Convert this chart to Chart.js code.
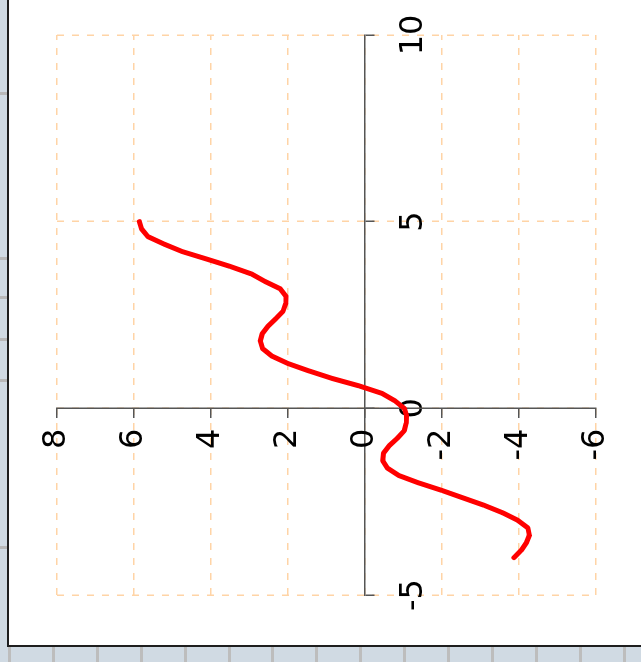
<!DOCTYPE html>
<html>
<head>
<meta charset="utf-8">
<script src="https://cdn.jsdelivr.net/npm/chart.js@4"></script>
<style>
  html, body { margin: 0; padding: 0; }
  body {
    width: 641px; height: 662px; position: relative; overflow: hidden;
    background: #d0dae3;
  }
  /* window frame around the plot */
  #panel {
    position: absolute; left: 7px; top: 0; width: 632px; height: 645px;
    background: #fff;
    border-left: 2px solid #1e1e1e; border-bottom: 2px solid #1e1e1e;
  }
  #ruler-bottom {
    position: absolute; left: 0; top: 647px; width: 641px; height: 15px;
    background: repeating-linear-gradient(to right,
      transparent 0, transparent 8px, #bdbdbd 8px, #bdbdbd 11px, transparent 11px, transparent 43.9px);
  }
  .mark { position: absolute; left: 0; width: 7px; height: 3px; background: #b8b8b8; }
  /* the chart is drawn landscape and turned a quarter turn */
  #wrap {
    position: absolute; left: 0; top: 0; width: 662px; height: 641px;
    transform-origin: 0 0;
    transform: translateY(662px) rotate(-90deg);
  }
</style>
</head>
<body>
<div id="panel"></div>
<div id="ruler-bottom"></div>
<div class="mark" style="top:92px"></div>
<div class="mark" style="top:257px"></div>
<div class="mark" style="top:296px"></div>
<div class="mark" style="top:338px"></div>
<div class="mark" style="top:379px"></div>
<div class="mark" style="top:546px"></div>
<div id="wrap"><canvas id="grafico" width="662" height="641"></canvas></div>

<script>
// curve samples
var xValores = [-4.0, -3.8, -3.6, -3.4, -3.2, -3.0, -2.8, -2.6, -2.4, -2.2,
                -2.0, -1.8, -1.6, -1.4, -1.2, -1.0, -0.8, -0.6, -0.4, -0.2,
                 0.0,  0.2,  0.4,  0.6,  0.8,  1.0,  1.2,  1.4,  1.6,  1.8,
                 2.0,  2.2,  2.4,  2.6,  2.8,  3.0,  3.2,  3.4,  3.6,  3.8,
                 4.0,  4.2,  4.4,  4.6,  4.8,  5.0];
var yValores = [-3.87, -4.06, -4.19, -4.27, -4.23, -3.97, -3.58, -3.10, -2.55, -2.00,
                -1.40, -0.88, -0.58, -0.46, -0.48, -0.63, -0.84, -1.02, -1.07, -1.08,
                -1.02, -0.78, -0.44,  0.15,  0.85,  1.45,  2.00,  2.42,  2.66,  2.72,
                 2.67,  2.52,  2.32,  2.13,  2.06,  2.05,  2.20,  2.60,  2.95,  3.50,
                 4.12,  4.75,  5.22,  5.64,  5.80,  5.86];

// axis ranges and ticks
var xTicks = [-5, 0, 5, 10];
var yTicks = [-6, -4, -2, 0, 2, 4, 6, 8];

var puntos = [];
for (var i in xValores) {
  puntos.push({ x: xValores[i], y: yValores[i] });
}

var fuente = { family: "DejaVu Sans", size: 32 };

function ejeLineal(ticks, posicion, padding, sufijo) {
  return {
    type: "linear",
    min: ticks[0],
    max: ticks[ticks.length - 1],
    position: posicion,
    afterBuildTicks: function(scale) {
      scale.ticks = ticks.map(function(v) { return { value: v }; });
    },
    // labels may hang past the ends, the layout padding already leaves room
    afterFit: function(scale) {
      scale.paddingLeft = 0;
      scale.paddingRight = 0;
      scale.paddingTop = 0;
      scale.paddingBottom = 0;
    },
    ticks: {
      color: "#000", font: fuente, padding: padding, maxRotation: 0, minRotation: 0,
      // a centred y axis puts its labels flush on the line, so push them off with spaces
      callback: function(v) { return v + sufijo; }
    },
    grid: { color: "#ffd4a6", lineWidth: 1.5, tickColor: "#555", tickLength: 9, tickWidth: 1.5 },
    border: { color: "#555", width: 1.5, dash: [7, 8] }
  };
}

var grafico = new Chart(document.getElementById("grafico"), {
  type: "scatter",
  data: {
    datasets: [{
      data: puntos,
      showLine: true,
      borderColor: "#ff0000",
      borderWidth: 5,
      borderJoinStyle: "round",
      borderCapStyle: "round",
      pointRadius: 0,
      fill: false,
      tension: 0
    }]
  },
  options: {
    responsive: false,
    animation: false,
    layout: { padding: { left: 67, right: 35, top: 57, bottom: 45 } },
    plugins: { legend: { display: false }, tooltip: { enabled: false } },
    scales: {
      x: ejeLineal(xTicks, { y: 0 }, 20, ""),
      y: ejeLineal(yTicks, { x: 0 }, 0, "\u00a0\u00a0")
    }
  }
});
</script>
</body>
</html>
